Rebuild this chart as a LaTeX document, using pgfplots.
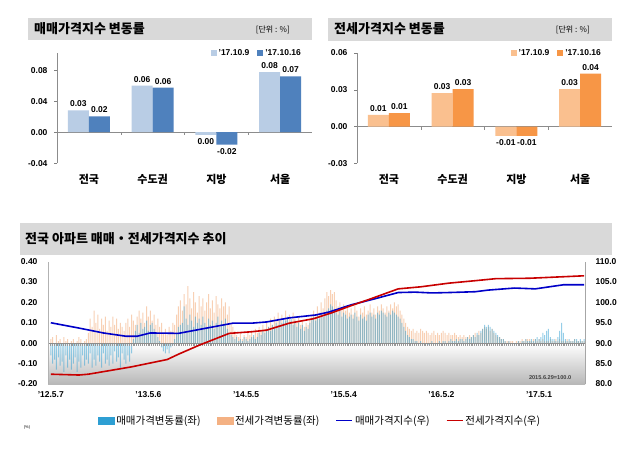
\documentclass[border=0pt]{standalone}
\usepackage{pgfplots}
\pgfplotsset{compat=1.18}
\usepackage{pgfplotstable}
\usepackage{fontspec}
\setmainfont{Liberation Sans}
\newfontfamily\cjk{Noto Sans CJK KR}
\definecolor{lblue}{HTML}{B9CDE5}
\definecolor{dblue}{HTML}{4F81BD}
\definecolor{lorange}{HTML}{FAC08F}
\definecolor{dorange}{HTML}{F79646}
\definecolor{salebar}{HTML}{2E9FD3}
\definecolor{jeonsebar}{HTML}{F4B183}
\definecolor{idxblue}{HTML}{0000C8}
\definecolor{idxred}{HTML}{C80000}
\definecolor{band}{HTML}{D9D9D9}
\pgfplotsset{/pgf/number format/assume math mode=true}

\pgfplotstableread{
x a b la lb
0 0.028 0.0203 0.03 0.02
1 0.060 0.0573 0.06 0.06
2 -0.0034 -0.0159 0.00 -0.02
3 0.0774 0.0719 0.08 0.07
}\saletop
\pgfplotstableread{
x a b la lb
0 0.0096 0.0110 0.01 0.01
1 0.0273 0.0306 0.03 0.03
2 -0.0076 -0.0076 -0.01 -0.01
3 0.0306 0.0431 0.03 0.04
}\jeonsetop

\pgfplotstableread[row sep=\\]{
w s j\\
0 -0.06 0.02\\ 1 -0.10 0.03\\ 2 -0.08 0.00\\ 3 -0.13 0.04\\ 4 -0.07 0.01\\
5 -0.11 0.02\\ 6 -0.09 0.00\\ 7 -0.14 0.03\\ 8 -0.06 0.01\\ 9 -0.12 0.02\\
10 -0.08 0.00\\ 11 -0.13 0.01\\ 12 -0.10 0.02\\ 13 -0.07 0.00\\ 14 -0.14 0.01\\
15 -0.09 0.03\\ 16 -0.12 0.02\\ 17 -0.06 0.00\\ 18 -0.11 0.01\\ 19 -0.08 0.02\\
20 -0.10 0.05\\ 21 -0.05 0.12\\ 22 -0.12 0.08\\ 23 -0.08 0.16\\ 24 -0.11 0.10\\
25 -0.06 0.14\\ 26 -0.09 0.07\\ 27 -0.12 0.12\\ 28 -0.05 0.09\\ 29 -0.10 0.13\\
30 -0.08 0.06\\ 31 -0.11 0.11\\ 32 -0.06 0.08\\ 33 -0.10 0.13\\ 34 -0.04 0.09\\
35 -0.09 0.12\\ 36 -0.07 0.07\\ 37 -0.12 0.10\\ 38 -0.05 0.08\\ 39 -0.08 0.06\\
40 -0.10 0.10\\ 41 -0.06 0.12\\ 42 -0.09 0.08\\ 43 -0.05 0.14\\ 44 0.02 0.11\\
45 0.06 0.09\\ 46 0.09 0.13\\ 47 0.05 0.16\\ 48 0.10 0.12\\ 49 0.07 0.15\\
50 0.08 0.10\\ 51 0.11 0.18\\ 52 0.06 0.13\\ 53 0.09 0.16\\ 54 0.10 0.11\\
55 0.07 0.14\\ 56 0.05 0.09\\ 57 0.03 0.12\\ 58 0.01 0.08\\ 59 -0.02 0.10\\
60 -0.04 0.05\\ 61 -0.05 0.07\\ 62 -0.03 0.04\\ 63 -0.05 0.08\\ 64 -0.02 0.06\\
65 -0.01 0.10\\ 66 0.02 0.09\\ 67 0.05 0.14\\ 68 0.08 0.18\\ 69 0.09 0.21\\
70 0.10 0.16\\ 71 0.18 0.24\\ 72 0.12 0.19\\ 73 0.09 0.28\\ 74 0.14 0.22\\
75 0.11 0.17\\ 76 0.08 0.25\\ 77 0.13 0.20\\ 78 0.10 0.15\\ 79 0.12 0.23\\
80 0.09 0.18\\ 81 0.13 0.22\\ 82 0.10 0.16\\ 83 0.08 0.20\\ 84 0.12 0.24\\
85 0.09 0.17\\ 86 0.11 0.21\\ 87 0.07 0.15\\ 88 0.10 0.23\\ 89 0.13 0.19\\
90 0.08 0.17\\ 91 0.11 0.22\\ 92 0.09 0.18\\ 93 0.12 0.20\\ 94 0.07 0.14\\
95 0.05 0.18\\ 96 0.04 0.10\\ 97 0.03 0.08\\ 98 0.02 0.06\\ 99 0.03 0.04\\
100 0.01 0.03\\ 101 0.02 0.05\\ 102 0.01 0.02\\ 103 0.03 0.04\\ 104 0.02 0.03\\
105 0.01 0.05\\ 106 0.02 0.04\\ 107 0.03 0.06\\ 108 0.04 0.03\\ 109 0.02 0.07\\
110 0.03 0.05\\ 111 0.05 0.08\\ 112 0.04 0.06\\ 113 0.06 0.09\\ 114 0.05 0.07\\
115 0.07 0.10\\ 116 0.08 0.08\\ 117 0.06 0.12\\ 118 0.09 0.09\\ 119 0.08 0.13\\
120 0.10 0.11\\ 121 0.09 0.15\\ 122 0.11 0.12\\ 123 0.10 0.14\\ 124 0.12 0.10\\
125 0.11 0.16\\ 126 0.13 0.12\\ 127 0.10 0.14\\ 128 0.12 0.11\\ 129 0.09 0.15\\
130 0.11 0.12\\ 131 0.08 0.10\\ 132 0.10 0.13\\ 133 0.07 0.09\\ 134 0.09 0.11\\
135 0.06 0.08\\ 136 0.08 0.10\\ 137 0.07 0.09\\ 138 0.10 0.12\\ 139 0.12 0.14\\
140 0.13 0.16\\ 141 0.11 0.13\\ 142 0.14 0.18\\ 143 0.12 0.15\\ 144 0.15 0.20\\
145 0.13 0.17\\ 146 0.14 0.22\\ 147 0.16 0.25\\ 148 0.17 0.23\\ 149 0.19 0.26\\
150 0.18 0.24\\ 151 0.16 0.25\\ 152 0.15 0.21\\ 153 0.14 0.18\\ 154 0.16 0.20\\
155 0.13 0.17\\ 156 0.15 0.19\\ 157 0.14 0.16\\ 158 0.12 0.18\\ 159 0.13 0.15\\
160 0.14 0.17\\ 161 0.12 0.14\\ 162 0.15 0.19\\ 163 0.13 0.16\\ 164 0.11 0.13\\
165 0.14 0.17\\ 166 0.12 0.15\\ 167 0.13 0.18\\ 168 0.11 0.14\\ 169 0.14 0.16\\
170 0.15 0.19\\ 171 0.13 0.15\\ 172 0.14 0.17\\ 173 0.12 0.14\\ 174 0.15 0.18\\
175 0.14 0.16\\ 176 0.16 0.19\\ 177 0.15 0.17\\ 178 0.14 0.15\\ 179 0.13 0.18\\
180 0.15 0.16\\ 181 0.14 0.19\\ 182 0.16 0.17\\ 183 0.15 0.20\\ 184 0.14 0.18\\
185 0.13 0.19\\ 186 0.12 0.16\\ 187 0.10 0.14\\ 188 0.08 0.12\\ 189 0.06 0.10\\
190 0.04 0.08\\ 191 0.03 0.07\\ 192 0.02 0.06\\ 193 0.02 0.07\\ 194 0.01 0.05\\
195 0.01 0.06\\ 196 0.00 0.05\\ 197 0.01 0.07\\ 198 0.00 0.06\\ 199 -0.01 0.05\\
200 0.00 0.06\\ 201 -0.01 0.05\\ 202 0.00 0.04\\ 203 0.01 0.05\\ 204 0.00 0.06\\
205 -0.01 0.04\\ 206 0.00 0.05\\ 207 0.01 0.04\\ 208 0.00 0.05\\ 209 0.01 0.06\\
210 0.01 0.05\\ 211 0.00 0.04\\ 212 0.01 0.05\\ 213 0.02 0.04\\ 214 0.01 0.04\\
215 0.01 0.05\\ 216 0.02 0.04\\ 217 0.01 0.03\\ 218 0.02 0.04\\ 219 0.02 0.03\\
220 0.01 0.04\\ 221 0.02 0.03\\ 222 0.03 0.03\\ 223 0.02 0.04\\ 224 0.03 0.03\\
225 0.04 0.04\\ 226 0.03 0.05\\ 227 0.05 0.04\\ 228 0.04 0.06\\ 229 0.06 0.05\\
230 0.07 0.07\\ 231 0.09 0.08\\ 232 0.08 0.07\\ 233 0.09 0.08\\ 234 0.08 0.06\\
235 0.07 0.07\\ 236 0.06 0.05\\ 237 0.05 0.04\\ 238 0.04 0.03\\ 239 0.03 0.03\\
240 0.02 0.02\\ 241 0.02 0.02\\ 242 0.01 0.01\\ 243 0.00 0.01\\ 244 0.01 0.01\\
245 0.00 0.01\\ 246 0.00 0.01\\ 247 -0.01 0.00\\ 248 0.00 0.01\\ 249 0.01 0.01\\
250 0.00 0.01\\ 251 0.01 0.02\\ 252 0.01 0.01\\ 253 0.02 0.02\\ 254 0.01 0.02\\
255 0.01 0.02\\ 256 0.02 0.01\\ 257 0.01 0.02\\ 258 0.02 0.02\\ 259 0.03 0.01\\
260 0.02 0.02\\ 261 0.03 0.01\\ 262 0.05 0.02\\ 263 0.04 0.01\\ 264 0.06 0.01\\
265 0.07 0.01\\ 266 0.03 0.02\\ 267 0.02 0.01\\ 268 0.02 0.01\\ 269 0.01 0.02\\
270 0.03 0.01\\ 271 0.06 0.02\\ 272 0.10 0.01\\ 273 0.05 0.01\\ 274 0.02 0.01\\
275 0.01 0.02\\ 276 0.02 0.01\\ 277 0.01 0.01\\ 278 0.01 0.01\\ 279 0.02 0.02\\
280 0.02 0.01\\ 281 0.01 0.01\\ 282 0.02 0.01\\ 283 0.01 0.01\\ 284 0.02 0.01\\
}\weekly

\pgfplotsset{
  topbar/.style={
    anchor=south west, scale only axis, width=255pt, height=110.3pt,
    xmin=-0.5, xmax=3.5,
    ybar=0pt, bar width=21pt,
    axis line style={draw=none},
    xtick={0,1,2,3}, xticklabels={전국,수도권,지방,서울},
    x tick style={draw=none},
    xticklabel style={font=\cjk\bfseries\fontsize{11}{13}\selectfont, yshift=-4pt},
    scaled y ticks=false, ytick pos=left, xtick pos=bottom,
    yticklabel style={/pgf/number format/fixed, /pgf/number format/fixed zerofill,
      /pgf/number format/precision=2, font=\bfseries\fontsize{8.5}{10}\selectfont, xshift=-3pt},
    y tick style={black!50, thin}, tick align=outside, major tick length=3pt,
    point meta=explicit symbolic,
    visualization depends on={rawy \as \rawy},
    nodes near coords,
    nodes near coords style={font=\bfseries\fontsize{8.5}{10}\selectfont,
      anchor={\ifdim\rawy pt<0pt north\else south\fi}},
    legend style={draw=none, fill=none, legend columns=2,
      font=\bfseries\fontsize{8.5}{10}\selectfont,
      /tikz/every even column/.append style={column sep=6pt}},
    legend image code/.code={\fill[##1] (0pt,-3pt) rectangle (6pt,3pt);},
  },
  bottomax/.style={
    anchor=south west, scale only axis, width=537pt, height=122.5pt,
    xmin=-1.5, xmax=284.5,
  },
}

\begin{document}
\begin{tikzpicture}
\path[use as bounding box, fill=white] (0pt,0pt) rectangle (642pt,-452pt);

% title bands
\fill[band] (28pt,-18pt) rectangle (312pt,-40pt);
\node[anchor=west, inner sep=0pt] at (34pt,-29pt) {\cjk\bfseries\fontsize{13}{15}\selectfont 매매가격지수 변동률};
\node[anchor=east, inner sep=0pt] at (290pt,-30pt) {\cjk\fontsize{8}{9}\selectfont [단위 : \%]};
\fill[band] (328pt,-18pt) rectangle (612pt,-41pt);
\node[anchor=west, inner sep=0pt] at (334pt,-29pt) {\cjk\bfseries\fontsize{13}{15}\selectfont 전세가격지수 변동률};
\node[anchor=east, inner sep=0pt] at (590pt,-30pt) {\cjk\fontsize{8}{9}\selectfont [단위 : \%]};
\fill[band] (20pt,-223pt) rectangle (612pt,-255pt);
\node[anchor=west, inner sep=0pt] at (25pt,-239pt) {\cjk\bfseries\fontsize{13}{15}\selectfont 전국 아파트 매매・전세가격지수 추이};

% top left
\begin{axis}[topbar, at={(57pt,-163.3pt)},
  ymin=-0.04, ymax=0.102, ytick={-0.04,0,0.04,0.08},
  legend style={at={(rel axis cs:0.59,1.0)}, anchor=west}]
\draw[black!45] (axis cs:-0.5,-0.04) -- (axis cs:-0.5,0.102);
\draw[black!45] (axis cs:-0.5,0) -- (axis cs:3.5,0);
\draw[black!45] (axis cs:0.5,0) -- ++(0pt,-3pt);
\draw[black!45] (axis cs:1.5,0) -- ++(0pt,-3pt);
\draw[black!45] (axis cs:2.5,0) -- ++(0pt,-3pt);
\addplot[fill=lblue, draw=none] table[x=x, y=a, meta=la] {\saletop};
\addplot[fill=dblue, draw=none] table[x=x, y=b, meta=lb] {\saletop};
\legend{’17.10.9, ’17.10.16}
\end{axis}

% top right
\begin{axis}[topbar, at={(357pt,-163.3pt)},
  ymin=-0.03, ymax=0.06, ytick={-0.03,0,0.03,0.06},
  legend style={at={(rel axis cs:0.59,1.0)}, anchor=west}]
\draw[black!45] (axis cs:-0.5,-0.03) -- (axis cs:-0.5,0.06);
\draw[black!45] (axis cs:-0.5,0) -- (axis cs:3.5,0);
\draw[black!45] (axis cs:0.5,0) -- ++(0pt,-3pt);
\draw[black!45] (axis cs:1.5,0) -- ++(0pt,-3pt);
\draw[black!45] (axis cs:2.5,0) -- ++(0pt,-3pt);
\addplot[fill=lorange, draw=none] table[x=x, y=a, meta=la] {\jeonsetop};
\addplot[fill=dorange, draw=none] table[x=x, y=b, meta=lb] {\jeonsetop};
\legend{’17.10.9, ’17.10.16}
\end{axis}

% bottom: weekly change bars (left axis)
\begin{axis}[bottomax, at={(48pt,-384pt)},
  ymin=-0.2, ymax=0.4,
  axis line style={draw=none},
  xtick={0,52,104,156,208,260},
  xticklabels={’12.5.7,’13.5.6,’14.5.5,’15.5.4,’16.5.2,’17.5.1},
  xticklabel style={font=\bfseries\fontsize{8.5}{10}\selectfont, yshift=-4pt},
  ytick={-0.2,-0.1,0,0.1,0.2,0.3,0.4},
  yticklabel style={/pgf/number format/fixed, /pgf/number format/fixed zerofill,
      /pgf/number format/precision=2, font=\bfseries\fontsize{8.5}{10}\selectfont, xshift=-7pt},
  major tick length=0pt,
]
\fill[top color=white, bottom color=black!28] (axis cs:-1.5,-0.2) rectangle (axis cs:284.5,0);
\addplot[ybar, bar width=1pt, bar shift=0pt, fill=jeonsebar, draw=none, fill opacity=0.6] table[x=w, y=j] {\weekly};
\addplot[ybar, bar width=1pt, bar shift=0pt, fill=salebar, draw=none, fill opacity=0.5] table[x=w, y=s] {\weekly};
\draw[black!40, line width=2.5pt, dash pattern=on 0.6pt off 1.278pt] (axis cs:-1.5,-0.0075) -- (axis cs:284.5,-0.0075);
\draw[black!45] (axis cs:-1.5,0) -- (axis cs:284.5,0);
\draw[black!30] (rel axis cs:0,0) -- (rel axis cs:0,1);
\node[font=\bfseries\fontsize{5.6}{6}\selectfont, black!75] at (rel axis cs:0.935,0.055) {2015.6.29=100.0};
\end{axis}

% bottom: index lines (right axis)
\begin{axis}[bottomax, at={(48pt,-384pt)},
  ymin=80, ymax=110,
  axis x line=none, axis y line*=right,
  y axis line style={draw=black!35},
  ytick={80,85,90,95,100,105,110},
  yticklabel style={/pgf/number format/fixed, /pgf/number format/fixed zerofill,
      /pgf/number format/precision=1, font=\bfseries\fontsize{8.5}{10}\selectfont, xshift=7pt},
  major tick length=0pt,
  legend style={at={(0.5065,-0.299)}, anchor=center, draw=none, fill=none,
    legend columns=4, font=\cjk\fontsize{10.5}{12}\selectfont,
    /tikz/every even column/.append style={column sep=14pt}},
]
\addlegendimage{legend image code/.code={\fill[salebar] (0pt,-3.5pt) rectangle (16pt,3.5pt);}}
\addlegendimage{legend image code/.code={\fill[jeonsebar] (0pt,-3.5pt) rectangle (16pt,3.5pt);}}
\addplot[idxblue, line width=1.6pt, legend image code/.code={\draw[idxblue, line width=1.6pt] (0pt,0pt) -- (16pt,0pt);}] coordinates {
(0,95.0) (15,93.7) (28,92.5) (40,91.7) (46,91.7) (53,92.5) (68,92.4) (97,94.9)
(107,94.9) (115,95.2) (127,96.2) (141,96.9) (148,97.6) (160,99.4) (172,100.8)
(185,102.4) (194,102.5) (203,102.3) (212,102.4) (226,102.6) (233,103.0)
(247,103.5) (258,103.3) (273,104.3) (284,104.3)};
\addplot[idxred, line width=1.6pt, legend image code/.code={\draw[idxred, line width=1.6pt] (0pt,0pt) -- (16pt,0pt);}] coordinates {
(0,82.4) (15,82.2) (20,82.4) (43,84.2) (62,86.0) (68,87.3) (79,89.5) (95,92.4)
(107,92.8) (115,93.2) (127,94.9) (140,96.0) (150,97.5) (160,99.2) (170,100.8)
(185,103.3) (197,103.8) (212,104.7) (226,105.3) (237,105.8) (255,105.9) (284,106.5)};
\legend{매매가격변동률(좌), 전세가격변동률(좌), 매매가격지수(우), 전세가격지수(우)}
\end{axis}

\node[font=\fontsize{4}{5}\selectfont] at (27pt,-427pt) {(\%)};
\end{tikzpicture}
\end{document}
